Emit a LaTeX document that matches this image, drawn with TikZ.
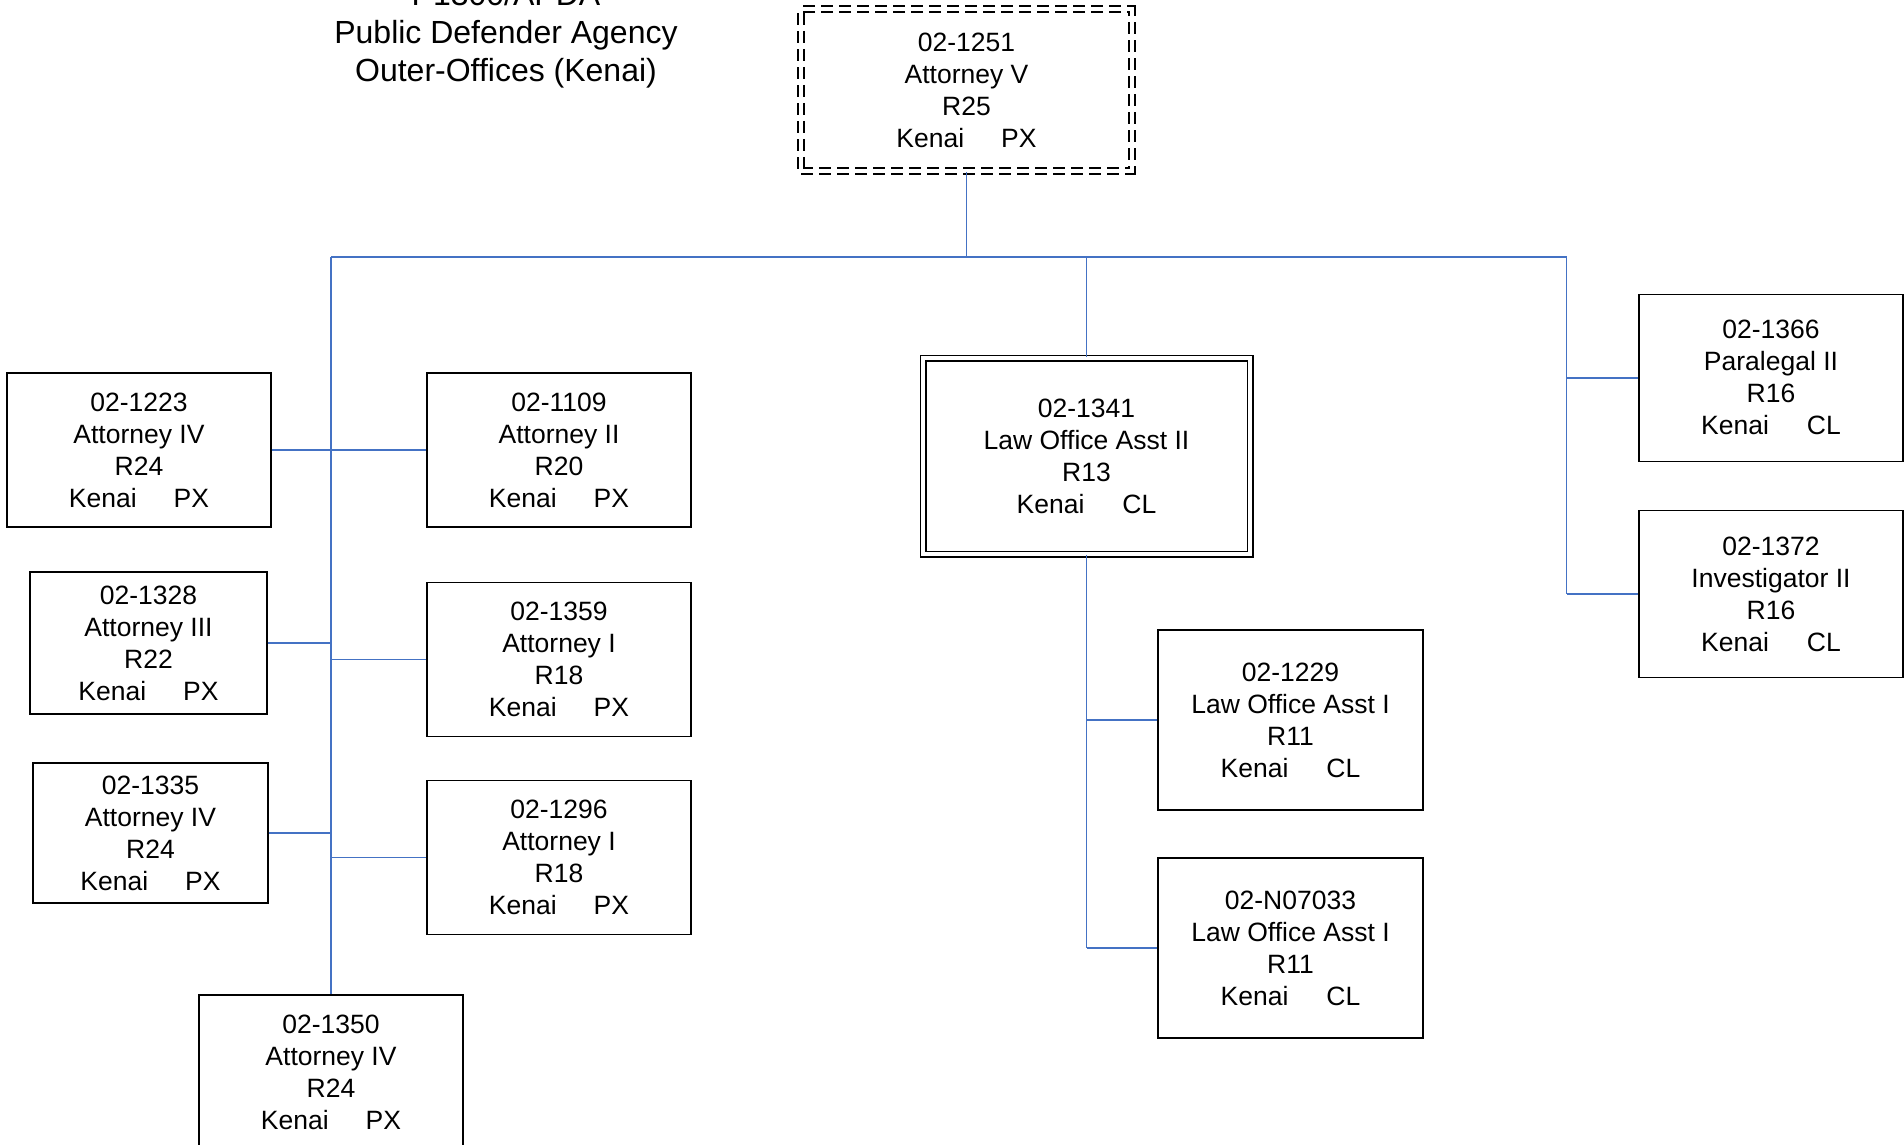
\documentclass[tikz,border=0pt]{standalone}
\usepackage{fontspec}
\setmainfont{Liberation Sans}
\usepackage{tikz}
\usetikzlibrary{arrows}
\definecolor{linkblue}{RGB}{68,114,196}

\begin{document}
\begin{tikzpicture}[x=1pt,y=-1pt,
  posn/.style={draw,line width=1.4pt,minimum width=264pt,minimum height=154pt,
    align=center,inner sep=0pt,font=\fontsize{26.5}{32}\selectfont},
  link/.style={draw=linkblue,line width=1.6pt}]
\useasboundingbox (0,0) rectangle (1904,1145);

% heading
\node[align=center,font=\fontsize{32}{38}\selectfont] (title) at (506,35)
  {P1300/APDA\\Public Defender Agency\\Outer-Offices (Kenai)};

% top
\node[posn,minimum width=331pt,minimum height=162pt,double,double distance=4pt,
  line width=1.8pt,dash pattern=on 12pt off 6pt] (p1251) at (966.5,90)
  {02-1251\\Attorney V\\R25\\Kenai\hspace{37pt}PX};

% attorneys
\node[posn] (p1223) at (139,450) {02-1223\\Attorney IV\\R24\\Kenai\hspace{37pt}PX};
\node[posn,minimum width=237pt,minimum height=142pt] (p1328) at (148.5,643)
  {02-1328\\Attorney III\\R22\\Kenai\hspace{37pt}PX};
\node[posn,minimum width=235pt,minimum height=140pt] (p1335) at (150.5,833)
  {02-1335\\Attorney IV\\R24\\Kenai\hspace{37pt}PX};
\node[posn] (p1350) at (331,1072) {02-1350\\Attorney IV\\R24\\Kenai\hspace{37pt}PX};
\node[posn] (p1109) at (559,450) {02-1109\\Attorney II\\R20\\Kenai\hspace{37pt}PX};
\node[posn] (p1359) at (559,659.5) {02-1359\\Attorney I\\R18\\Kenai\hspace{37pt}PX};
\node[posn] (p1296) at (559,857.5) {02-1296\\Attorney I\\R18\\Kenai\hspace{37pt}PX};

% clerical
\node[posn,minimum width=327pt,minimum height=196pt,double,double distance=4pt,
  line width=1.5pt] (p1341) at (1086.5,456)
  {02-1341\\Law Office Asst II\\R13\\Kenai\hspace{38pt}CL};
\node[posn,minimum width=265pt,minimum height=180pt] (p1229) at (1290.5,720)
  {02-1229\\Law Office Asst I\\R11\\Kenai\hspace{38pt}CL};
\node[posn,minimum width=265pt,minimum height=180pt] (pN07033) at (1290.5,948)
  {02-N07033\\Law Office Asst I\\R11\\Kenai\hspace{38pt}CL};
\node[posn,minimum width=264pt,minimum height=167pt] (p1366) at (1771,377.7)
  {02-1366\\Paralegal II\\R16\\Kenai\hspace{38pt}CL};
\node[posn,minimum width=264pt,minimum height=167pt] (p1372) at (1771,594)
  {02-1372\\Investigator II\\R16\\Kenai\hspace{38pt}CL};

% lines
\coordinate (busL) at (331,257);
\coordinate (busR) at (1566.5,257);
\draw[link] (p1251.south) -- (p1251.south |- busL);
\draw[link] (busL) -- (busR);
\draw[link] (busL) -- (p1350.north);
\draw[link] (p1223.east) -- (p1223.east -| busL);
\draw[link] (p1109.west -| busL) -- (p1109.west);
\draw[link] (p1328.east) -- (p1328.east -| busL);
\draw[link] (p1359.west -| busL) -- (p1359.west);
\draw[link] (p1335.east) -- (p1335.east -| busL);
\draw[link] (p1296.west -| busL) -- (p1296.west);
\draw[link] (p1341.north |- busL) -- (p1341.north);
\draw[link] (p1341.south) -- (p1341.south |- pN07033.west);
\draw[link] (p1229.west -| p1341.south) -- (p1229.west);
\draw[link] (pN07033.west -| p1341.south) -- (pN07033.west);
\draw[link] (busR) -- (busR |- p1372.west);
\draw[link] (busR |- p1366.west) -- (p1366.west);
\draw[link] (busR |- p1372.west) -- (p1372.west);
\end{tikzpicture}
\end{document}
